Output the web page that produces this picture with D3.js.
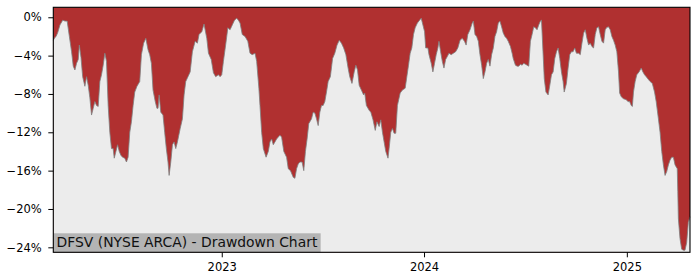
<!DOCTYPE html>
<html><head><meta charset="utf-8">
<script src="https://cdn.jsdelivr.net/npm/d3@7"></script>
<style>body{margin:0;background:#fff;} svg{display:block;font-family:"DejaVu Sans",sans-serif;}</style>
</head><body><svg id="c" width="700" height="280"></svg>
<script>
const dates = ["2022-03-03","2022-03-06","2022-03-08","2022-03-11","2022-03-15","2022-03-20","2022-03-24","2022-03-28","2022-04-01","2022-04-05","2022-04-08","2022-04-11","2022-04-14","2022-04-17","2022-04-19","2022-04-22","2022-04-25","2022-04-29","2022-05-02","2022-05-05","2022-05-08","2022-05-11","2022-05-14","2022-05-17","2022-05-20","2022-05-23","2022-05-26","2022-05-29","2022-06-01","2022-06-04","2022-06-07","2022-06-10","2022-06-13","2022-06-16","2022-06-19","2022-06-21","2022-06-24","2022-06-27","2022-06-30","2022-07-03","2022-07-06","2022-07-10","2022-07-13","2022-07-16","2022-07-19","2022-07-22","2022-07-25","2022-07-28","2022-08-01","2022-08-06","2022-08-09","2022-08-13","2022-08-17","2022-08-21","2022-08-24","2022-08-27","2022-08-30","2022-09-03","2022-09-06","2022-09-08","2022-09-10","2022-09-13","2022-09-17","2022-09-20","2022-09-23","2022-09-26","2022-09-28","2022-10-01","2022-10-04","2022-10-07","2022-10-10","2022-10-13","2022-10-18","2022-10-22","2022-10-25","2022-10-28","2022-11-01","2022-11-05","2022-11-09","2022-11-14","2022-11-18","2022-11-21","2022-11-26","2022-11-30","2022-12-05","2022-12-08","2022-12-13","2022-12-17","2022-12-21","2022-12-26","2022-12-29","2023-01-01","2023-01-04","2023-01-08","2023-01-12","2023-01-16","2023-01-20","2023-01-24","2023-01-28","2023-01-31","2023-02-03","2023-02-07","2023-02-12","2023-02-17","2023-02-21","2023-02-25","2023-03-02","2023-03-05","2023-03-09","2023-03-11","2023-03-14","2023-03-17","2023-03-22","2023-03-26","2023-03-29","2023-04-01","2023-04-04","2023-04-07","2023-04-10","2023-04-13","2023-04-16","2023-04-19","2023-04-23","2023-04-28","2023-05-01","2023-05-05","2023-05-10","2023-05-13","2023-05-16","2023-05-19","2023-05-22","2023-05-26","2023-05-29","2023-06-01","2023-06-04","2023-06-07","2023-06-12","2023-06-15","2023-06-18","2023-06-21","2023-06-24","2023-06-27","2023-06-30","2023-07-03","2023-07-06","2023-07-09","2023-07-12","2023-07-16","2023-07-20","2023-07-24","2023-07-28","2023-08-01","2023-08-05","2023-08-09","2023-08-13","2023-08-17","2023-08-20","2023-08-24","2023-08-28","2023-08-31","2023-09-03","2023-09-06","2023-09-10","2023-09-14","2023-09-16","2023-09-19","2023-09-24","2023-09-27","2023-10-01","2023-10-05","2023-10-08","2023-10-12","2023-10-15","2023-10-18","2023-10-21","2023-10-24","2023-10-28","2023-10-30","2023-11-02","2023-11-05","2023-11-08","2023-11-11","2023-11-14","2023-11-19","2023-11-23","2023-11-28","2023-12-01","2023-12-04","2023-12-07","2023-12-10","2023-12-13","2023-12-16","2023-12-20","2023-12-24","2023-12-27","2023-12-30","2024-01-02","2024-01-04","2024-01-08","2024-01-10","2024-01-14","2024-01-17","2024-01-20","2024-01-23","2024-01-26","2024-01-28","2024-01-31","2024-02-03","2024-02-06","2024-02-09","2024-02-12","2024-02-15","2024-02-19","2024-02-23","2024-02-27","2024-03-02","2024-03-06","2024-03-10","2024-03-14","2024-03-17","2024-03-20","2024-03-24","2024-03-28","2024-03-30","2024-04-02","2024-04-05","2024-04-08","2024-04-11","2024-04-14","2024-04-17","2024-04-20","2024-04-23","2024-04-26","2024-04-29","2024-05-02","2024-05-05","2024-05-08","2024-05-11","2024-05-14","2024-05-17","2024-05-20","2024-05-23","2024-05-26","2024-05-29","2024-06-01","2024-06-05","2024-06-08","2024-06-10","2024-06-14","2024-06-17","2024-06-20","2024-06-23","2024-06-26","2024-06-29","2024-07-02","2024-07-05","2024-07-08","2024-07-11","2024-07-14","2024-07-17","2024-07-20","2024-07-23","2024-07-26","2024-07-29","2024-07-31","2024-08-03","2024-08-05","2024-08-08","2024-08-12","2024-08-15","2024-08-18","2024-08-21","2024-08-24","2024-08-27","2024-08-30","2024-09-02","2024-09-05","2024-09-08","2024-09-10","2024-09-14","2024-09-17","2024-09-20","2024-09-23","2024-09-26","2024-09-29","2024-10-02","2024-10-06","2024-10-09","2024-10-12","2024-10-15","2024-10-18","2024-10-21","2024-10-24","2024-10-27","2024-10-30","2024-11-02","2024-11-05","2024-11-08","2024-11-11","2024-11-14","2024-11-17","2024-11-20","2024-11-23","2024-11-26","2024-11-29","2024-12-02","2024-12-05","2024-12-08","2024-12-11","2024-12-14","2024-12-17","2024-12-19","2024-12-22","2024-12-26","2024-12-31","2025-01-03","2025-01-06","2025-01-09","2025-01-11","2025-01-13","2025-01-16","2025-01-19","2025-01-23","2025-01-27","2025-01-30","2025-02-02","2025-02-05","2025-02-09","2025-02-12","2025-02-16","2025-02-20","2025-02-23","2025-02-27","2025-03-02","2025-03-05","2025-03-08","2025-03-11","2025-03-14","2025-03-17","2025-03-20","2025-03-23","2025-03-26","2025-03-29","2025-04-02","2025-04-03","2025-04-04","2025-04-07","2025-04-10","2025-04-13","2025-04-16","2025-04-19","2025-04-22","2025-04-25"];

const drawdown = [-2.4,-2.1,-2.0,-1.6,-0.8,-0.3,-0.4,-0.4,-2.0,-3.6,-5.1,-5.5,-4.8,-4.4,-2.9,-4.2,-6.2,-7.2,-6.2,-7.1,-8.4,-10.2,-9.5,-8.8,-9.2,-9.3,-6.7,-6.0,-5.0,-3.75,-4.6,-9.2,-12.0,-13.7,-13.7,-14.7,-14.0,-13.3,-14.0,-14.4,-14.6,-14.7,-15.1,-14.6,-12.0,-10.9,-9.2,-7.8,-7.2,-6.7,-3.9,-2.7,-2.2,-3.4,-3.9,-4.8,-7.6,-8.8,-9.5,-9.5,-8.1,-9.9,-10.2,-12.0,-13.7,-15.1,-16.5,-15.1,-13.3,-13.0,-13.7,-13.0,-11.6,-10.6,-8.1,-6.7,-6.2,-5.7,-3.6,-2.5,-2.7,-1.8,-1.5,-0.7,-2.2,-3.75,-4.4,-5.8,-6.2,-6.0,-6.2,-6.0,-4.6,-2.9,-1.1,-1.3,-0.8,-0.3,-0.1,-0.3,-0.6,-1.8,-2.0,-2.5,-3.75,-3.9,-3.75,-4.6,-7.4,-9.2,-12.0,-13.7,-14.6,-14.0,-13.0,-12.7,-13.3,-13.0,-12.7,-12.5,-12.3,-12.5,-14.0,-14.6,-15.8,-16.0,-16.7,-16.8,-15.8,-15.3,-15.1,-15.1,-16.0,-14.0,-12.7,-11.1,-10.6,-9.9,-10.0,-10.6,-11.3,-9.9,-9.2,-9.2,-8.8,-7.8,-6.7,-6.2,-4.3,-3.75,-2.9,-2.4,-2.7,-3.2,-3.9,-5.3,-6.2,-6.9,-5.7,-5.0,-5.5,-7.1,-7.6,-8.1,-7.9,-9.2,-9.7,-9.9,-10.7,-11.8,-10.9,-11.4,-10.7,-12.0,-13.0,-14.0,-14.7,-13.7,-12.0,-11.6,-12.1,-12.1,-9.2,-7.9,-7.6,-7.4,-6.2,-5.0,-3.75,-3.2,-1.8,-1.1,-0.6,-0.3,-0.1,-0.8,-1.5,-3.2,-3.2,-3.9,-4.8,-5.7,-4.8,-3.9,-3.2,-2.5,-3.6,-4.6,-5.3,-4.4,-4.1,-3.75,-3.9,-3.75,-3.6,-3.2,-2.4,-2.2,-2.5,-2.9,-1.8,-1.3,-0.6,-0.4,-1.8,-2.0,-2.5,-3.9,-5.0,-6.4,-5.7,-4.8,-4.4,-5.1,-3.9,-3.2,-2.0,-1.5,-0.6,-0.4,-1.0,-1.65,-2.0,-2.2,-2.5,-3.05,-3.75,-4.3,-5.0,-5.1,-5.1,-4.9,-5.0,-4.8,-4.9,-5.0,-5.1,-2.5,-1.8,-1.0,-1.1,-1.3,-0.8,-0.4,-0.3,-3.9,-6.4,-7.8,-8.1,-7.1,-6.0,-5.7,-4.3,-3.6,-3.2,-4.3,-5.7,-6.7,-7.8,-6.9,-5.3,-3.9,-3.6,-3.6,-3.2,-3.75,-3.75,-3.9,-2.7,-1.65,-1.3,-2.2,-2.9,-2.7,-3.05,-3.2,-1.8,-1.1,-1.0,-1.8,-2.5,-2.7,-1.3,-1.05,-1.0,-1.3,-2.0,-2.4,-2.9,-3.6,-5.7,-7.9,-8.3,-8.5,-8.6,-8.8,-8.8,-9.2,-9.3,-7.8,-6.7,-6.0,-5.7,-5.3,-5.7,-6.0,-6.2,-6.5,-6.7,-6.9,-7.8,-8.8,-10.6,-12.0,-14.0,-15.4,-16.5,-16.1,-15.4,-14.9,-14.6,-14.6,-15.4,-15.8,-18.2,-21.0,-23.1,-24.2,-24.3,-24.3,-23.5,-21.4,-20.8];

const yTickValues = [0, -4, -8, -12, -16, -20, -24];
const xTickDates = ["2023-01-01", "2024-01-01", "2025-01-01"];
const xTickLabels = ["2023", "2024", "2025"];
const chartTitle = "DFSV (NYSE ARCA) - Drawdown Chart";

const W = 700, H = 280;
const plot = {left: 53.3, right: 690, top: 7.3, bottom: 252.3};
const parse = d3.utcParse("%Y-%m-%d");
const data = dates.map((d, i) => ({date: parse(d), v: drawdown[i]}));

const x = d3.scaleUtc().domain(d3.extent(data, d => d.date)).range([plot.left, plot.right]);
const y = d3.scaleLinear().domain([-24.52, 1.04]).range([plot.bottom, plot.top]);

const svg = d3.select("#c");

// red background
svg.append("rect").attr("x", plot.left).attr("y", plot.top)
  .attr("width", plot.right - plot.left).attr("height", plot.bottom - plot.top)
  .attr("fill", "#b03030");

// grey area below the drawdown curve
const area = d3.area().x(d => x(d.date)).y0(plot.bottom).y1(d => y(d.v));
svg.append("path").datum(data).attr("d", area).attr("fill", "#ececec");

const line = d3.line().x(d => x(d.date)).y(d => y(d.v));
svg.append("path").datum(data).attr("d", line).attr("fill", "none")
  .attr("stroke", "#808080").attr("stroke-width", 1).attr("stroke-opacity", 0.8);

// title box
const tg = svg.append("g");
const tRect = tg.append("rect").attr("fill", "#b4b4b4");
const tText = tg.append("text").attr("x", 56.6).attr("y", 246.7)
  .attr("font-size", 13.9).attr("fill", "#111").text(chartTitle);
const tw = tText.node().getComputedTextLength();
tRect.attr("x", plot.left).attr("y", 233.3).attr("width", 56.6 - plot.left + tw + 3.3).attr("height", plot.bottom - 233.3);

// axes
const yAxis = d3.axisLeft(y).tickValues(yTickValues).tickSize(5).tickPadding(6.6)
  .tickFormat(d => (d < 0 ? "\u2212" + Math.abs(d) : d) + "%");
const gy = svg.append("g").attr("transform", `translate(${plot.left},0)`).call(yAxis);

const xAxis = d3.axisBottom(x).tickValues(xTickDates.map(parse)).tickSize(5).tickPadding(5.5)
  .tickFormat((d, i) => xTickLabels[i]);
const gx = svg.append("g").attr("transform", `translate(0,${plot.bottom})`).call(xAxis);

[gx, gy].forEach(g => {
  g.select(".domain").remove();
  g.selectAll("text").attr("font-size", 11.5).attr("font-family", "DejaVu Sans").attr("fill", "#000");
  g.selectAll("line").attr("stroke", "#000").attr("stroke-width", 1);
});

// frame
svg.append("rect").attr("x", plot.left).attr("y", plot.top)
  .attr("width", plot.right - plot.left).attr("height", plot.bottom - plot.top)
  .attr("fill", "none").attr("stroke", "#000").attr("stroke-width", 1.1);
</script></body></html>
